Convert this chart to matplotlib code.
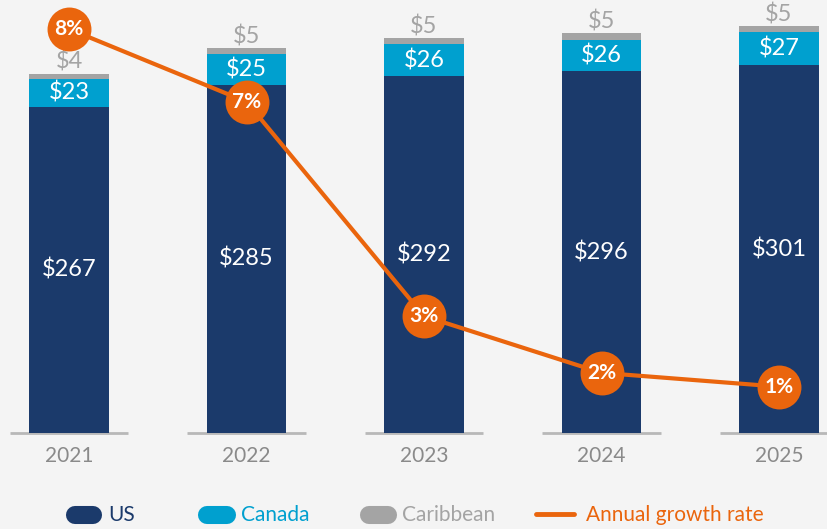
import matplotlib
matplotlib.use("Agg")
import matplotlib.pyplot as plt
from matplotlib.lines import Line2D
import numpy as np

plt.rcParams['font.family'] = ['Lato', 'DejaVu Sans']

years = ["2021", "2022", "2023", "2024", "2025"]
us = [267, 285, 292, 296, 301]
canada = [23, 25, 26, 26, 27]
caribbean = [4, 5, 5, 5, 5]
# growth line positions (secondary axis units) and their printed labels
growth_pos = [9.33, 7.65, 2.70, 1.39, 1.07]
growth_labels = ["8%", "7%", "3%", "2%", "1%"]

C_US = "#1b3a6b"
C_CA = "#00a0cf"
C_CB = "#a4a4a4"
C_OR = "#ea650d"
BG = "#f4f4f4"
W, H = 827, 529

fig = plt.figure(figsize=(W / 100, H / 100), dpi=100, facecolor=BG)
ax = fig.add_axes([0, 96 / H, 1, 433 / H])
ax.set_facecolor(BG)
x = np.arange(len(years))
bw = 0.45

ax.bar(x, us, bw, color=C_US, zorder=2)
ax.bar(x, canada, bw, bottom=us, color=C_CA, zorder=2)
tops = [u + c for u, c in zip(us, canada)]
ax.bar(x, caribbean, bw, bottom=tops, color=C_CB, zorder=2)

for i in range(len(x)):
    ax.text(x[i], us[i] / 2, f"${us[i]}", ha="center", va="center",
            color="white", fontsize=17, zorder=3)
    ax.text(x[i], us[i] + canada[i] / 2, f"${canada[i]}", ha="center",
            va="center", color="white", fontsize=17, zorder=3)
    ax.annotate(f"${caribbean[i]}", (x[i], tops[i] + caribbean[i]),
                xytext=(0, 8.5), textcoords="offset points", ha="center",
                va="center", color=C_CB, fontsize=17, zorder=3)

ax.set_xlim(-69 / 177.5, (W - 69) / 177.5)
ax.set_ylim(0, 433 / 1.222)
for s in ax.spines.values():
    s.set_visible(False)
ax.set_yticks([])
ax.set_xticks(x)
ax.set_xticklabels(years, color="#8a8a8a", fontsize=15)
ax.tick_params(axis="x", length=0, pad=9)
ax.hlines([0] * len(x), x - 0.335, x + 0.335, color="#b8b8b8", lw=2,
          clip_on=False, zorder=1)

ax2 = ax.twinx()
ax2.set_ylim(0, 10)
ax2.set_yticks([])
for s in ax2.spines.values():
    s.set_visible(False)
ax2.plot(x, growth_pos, color=C_OR, lw=3, zorder=4, solid_capstyle="round")
ax2.scatter(x, growth_pos, s=1000, color=C_OR, zorder=5, linewidths=0)
for xi, yi, lab in zip(x, growth_pos, growth_labels):
    ax2.text(xi, yi, lab, ha="center", va="center", color="white",
             fontsize=15, fontweight="bold", zorder=6)

# legend
yc = 1 - 515 / H
def pill(x0, x1, color):
    fig.add_artist(Line2D([(x0 + 9) / W, (x1 - 9) / W], [yc, yc],
                          transform=fig.transFigure, color=color, lw=13,
                          solid_capstyle="round"))
pill(66, 102, C_US)
fig.text(108 / W, yc, "US", color=C_US, fontsize=15, va="center")
pill(198, 236, C_CA)
fig.text(241 / W, yc, "Canada", color=C_CA, fontsize=15, va="center")
pill(360, 397, C_CB)
fig.text(402 / W, yc, "Caribbean", color=C_CB, fontsize=15, va="center")
fig.add_artist(Line2D([536 / W, 574 / W], [yc + 1 / H, yc + 1 / H],
                      transform=fig.transFigure, color=C_OR, lw=3.5,
                      solid_capstyle="round"))
fig.text(586 / W, yc, "Annual growth rate", color=C_OR, fontsize=15,
         va="center")

fig.savefig("out.png", dpi=100, facecolor=BG)
